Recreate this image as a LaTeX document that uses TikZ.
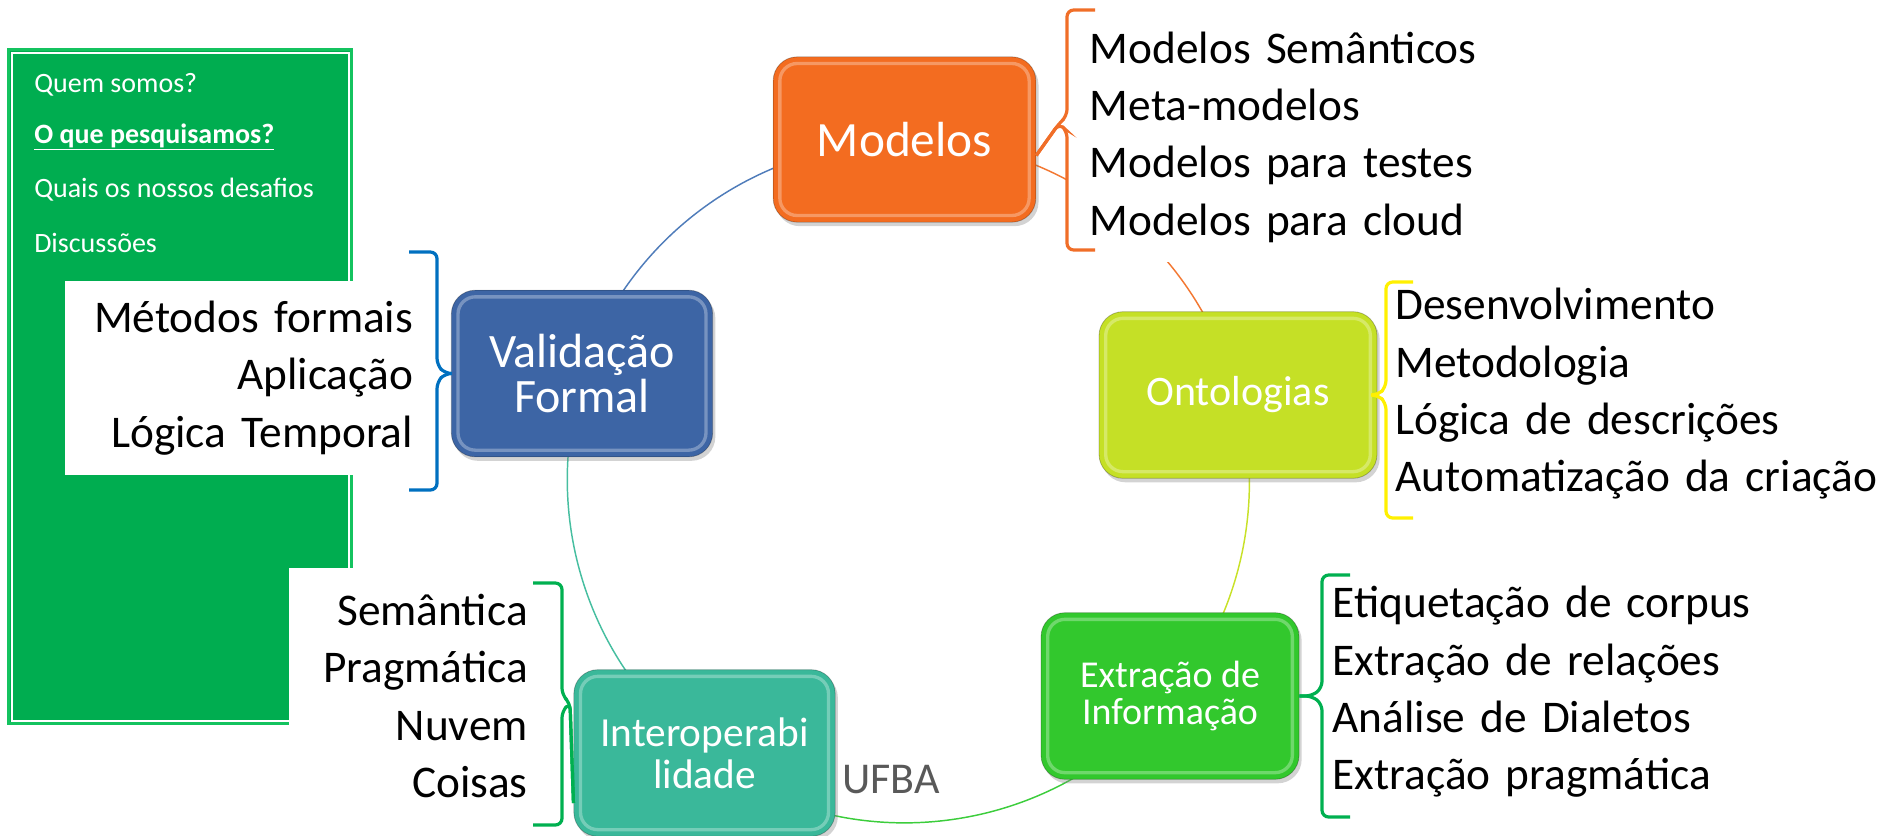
\documentclass[tikz,border=0pt]{standalone}
\usepackage{fontspec}
\setmainfont{Carlito}
\usetikzlibrary{shadows}
\pgfdeclarelayer{background}
\pgfsetlayers{background,main}

\begin{document}
\begin{tikzpicture}[x=0.75pt,y=0.75pt,yscale=-1,xscale=1,
  box/.style={rounded corners=18pt, minimum width=196pt, minimum height=125pt, align=center, text=white,
    draw=black, draw opacity=0.25, line width=0.6pt, font=\fontsize{36}{34}\selectfont,
    drop shadow={opacity=0.35, shadow xshift=2pt, shadow yshift=-3pt},
    path picture={\draw [white, opacity=0.3, line width=2.5pt, rounded corners=13pt]
      ([shift={(5pt,-5pt)}]path picture bounding box.north west) rectangle ([shift={(-5pt,5pt)}]path picture bounding box.south east);}},
  itemlist/.style={fill=white, inner ysep=0pt, font=\fontsize{34}{43}\selectfont},
  paneltext/.style={anchor=west, text=white, inner sep=0pt, font=\fontsize{21}{21}\selectfont},
  listbrace/.style={line width=2.4pt, rounded corners=5pt},
  ring/.style={line width=1.1pt}
]
\useasboundingbox (0,0) rectangle (1894,835);
\clip (0,0) rectangle (1894,835);

%Panel
\fill [color={rgb, 255:red, 0; green, 173; blue, 80 }] (7,48) rectangle (353,725);
\draw [color={rgb, 255:red, 20; green, 195; blue, 95 }, line width=2.25pt] (8.5,49.5) rectangle (351.5,723.5);
\draw [color=white, line width=1.5pt] (11.5,52.5) rectangle (348.5,720.5);

% Text Node
\draw (34,85) node [paneltext] (quem) {Quem somos?};
% Text Node
\draw (34,137) node [paneltext] (pesq) {\textbf{\underline{O que pesquisamos?}}};
% Text Node
\draw (34,190) node [paneltext] (desaf) {Quais os nossos desafios};
% Text Node
\draw (34,243) node [paneltext] (disc) {Discussões};

%Lists
\draw (428,378) node [itemlist, anchor=east, align=right, text width=250pt, inner xsep=11pt, minimum height=146pt] (vlist) {Métodos formais\\Aplicação\\Lógica Temporal};
\draw (552,696) node [itemlist, anchor=east, align=right, text width=161pt, inner xsep=18pt, minimum height=192pt] (ilist) {Semântica\\Pragmática\\Nuvem\\Coisas};
\draw (1067,137) node [itemlist, anchor=west, align=left, text width=320pt, inner xsep=17pt, minimum height=187.5pt] (mlist) {Modelos Semânticos\\Meta-modelos\\Modelos para testes\\Modelos para cloud};
\draw (1387,394) node [itemlist, anchor=west, align=left, text width=400pt, inner xsep=6pt, minimum height=180pt] (olist) {Desenvolvimento\\Metodologia\\Lógica de descrições\\Automatização da criação};
\draw (1323,692) node [itemlist, anchor=west, align=left, text width=380pt, inner xsep=7pt, minimum height=180pt] (elist) {Etiquetação de corpus\\Extração de relações\\Análise de Dialetos\\Extração pragmática};

%Rounded Rect
\draw (904.5,139.5) node [box, fill={rgb, 255:red, 243; green, 108; blue, 32 }, minimum width=197pt, minimum height=124pt, font=\fontsize{37}{34}\selectfont] (modelos) {Modelos};
%Rounded Rect
\draw (582,373.5) node [box, fill={rgb, 255:red, 61; green, 101; blue, 165 }] (valid) {Validação\\Formal};
%Rounded Rect
\draw (1238,395) node [box, fill={rgb, 255:red, 197; green, 224; blue, 38 }, minimum width=208.5pt, font=\fontsize{31.5}{31.5}\selectfont] (ontol) {Ontologias};
%Rounded Rect
\draw (1170,696) node [box, fill={rgb, 255:red, 50; green, 200; blue, 45 }, minimum width=193.5pt, font=\fontsize{28.5}{27.5}\selectfont] (extr) {Extração de\\Informação};
%Rounded Rect
\draw (704.5,753) node [box, fill={rgb, 255:red, 58; green, 184; blue, 154 }, font=\fontsize{31}{31.5}\selectfont] (interop) {Interoperabi\\lidade};

%Curve Lines
\begin{pgfonlayer}{background}
\draw [ring, draw={rgb, 255:red, 79; green, 124; blue, 186 }] (valid.center) arc [start angle=-161.3, end angle=-90.25, radius=341];
\draw [ring, draw={rgb, 255:red, 243; green, 120; blue, 50 }] (modelos.center) arc [start angle=-90.25, end angle=-14.85, radius=341];
\draw [ring, draw={rgb, 255:red, 200; green, 225; blue, 40 }] (ontol.center) arc [start angle=-14.85, end angle=38.9, radius=341];
\draw [ring, draw={rgb, 255:red, 60; green, 205; blue, 60 }] (extr.center) arc [start angle=38.9, end angle=126.7, radius=341];
\draw [ring, draw={rgb, 255:red, 70; green, 190; blue, 160 }] (interop.center) arc [start angle=126.7, end angle=198.7, radius=341];
\end{pgfonlayer}

%Braces
\draw [listbrace, draw={rgb, 255:red, 0; green, 112; blue, 192 }] (409,252) -- (437,252) -- (437,365) -- (445,373.5) -- (valid.west);
\draw [listbrace, draw={rgb, 255:red, 0; green, 112; blue, 192 }] (409,490) -- (437,490) -- (437,382) -- (445,373.5) -- (valid.west);
\draw [listbrace, draw={rgb, 255:red, 240; green, 110; blue, 40 }] (1095,10) -- (1067,10) -- (1067,116) -- (1059,123.5) -- ([yshift=12pt]modelos.east);
\draw [listbrace, draw={rgb, 255:red, 240; green, 110; blue, 40 }] (1095,250) -- (1067,250) -- (1067,131) -- (1059,123.5) -- ([yshift=12pt]modelos.east);
\draw [listbrace, draw={rgb, 255:red, 255; green, 240; blue, 0 }] (1413,282) -- (1386,282) -- (1386,387) -- (1378,395) -- (ontol.east);
\draw [listbrace, draw={rgb, 255:red, 255; green, 240; blue, 0 }] (1413,518) -- (1386,518) -- (1386,403) -- (1378,395) -- (ontol.east);
\draw [listbrace, draw={rgb, 255:red, 0; green, 176; blue, 80 }] (1350,575) -- (1322,575) -- (1322,688) -- (1312,696) -- (extr.east);
\draw [listbrace, draw={rgb, 255:red, 0; green, 176; blue, 80 }] (1350,817) -- (1322,817) -- (1322,704) -- (1312,696) -- (extr.east);
\draw [listbrace, draw={rgb, 255:red, 0; green, 176; blue, 80 }] (533,583) -- (562,583) -- (562,695) -- (570,703) -- ([yshift=37.5pt]interop.west);
\draw [listbrace, draw={rgb, 255:red, 0; green, 176; blue, 80 }] (533,825) -- (562,825) -- (562,711) -- (570,703) -- ([yshift=37.5pt]interop.west);

% Text Node
\draw (842,793) node [anchor=base west, inner sep=0pt, text={rgb, 255:red, 89; green, 89; blue, 89 }, font=\fontsize{33}{33}\selectfont] (ufba) {UFBA};

\end{tikzpicture}
\end{document}
